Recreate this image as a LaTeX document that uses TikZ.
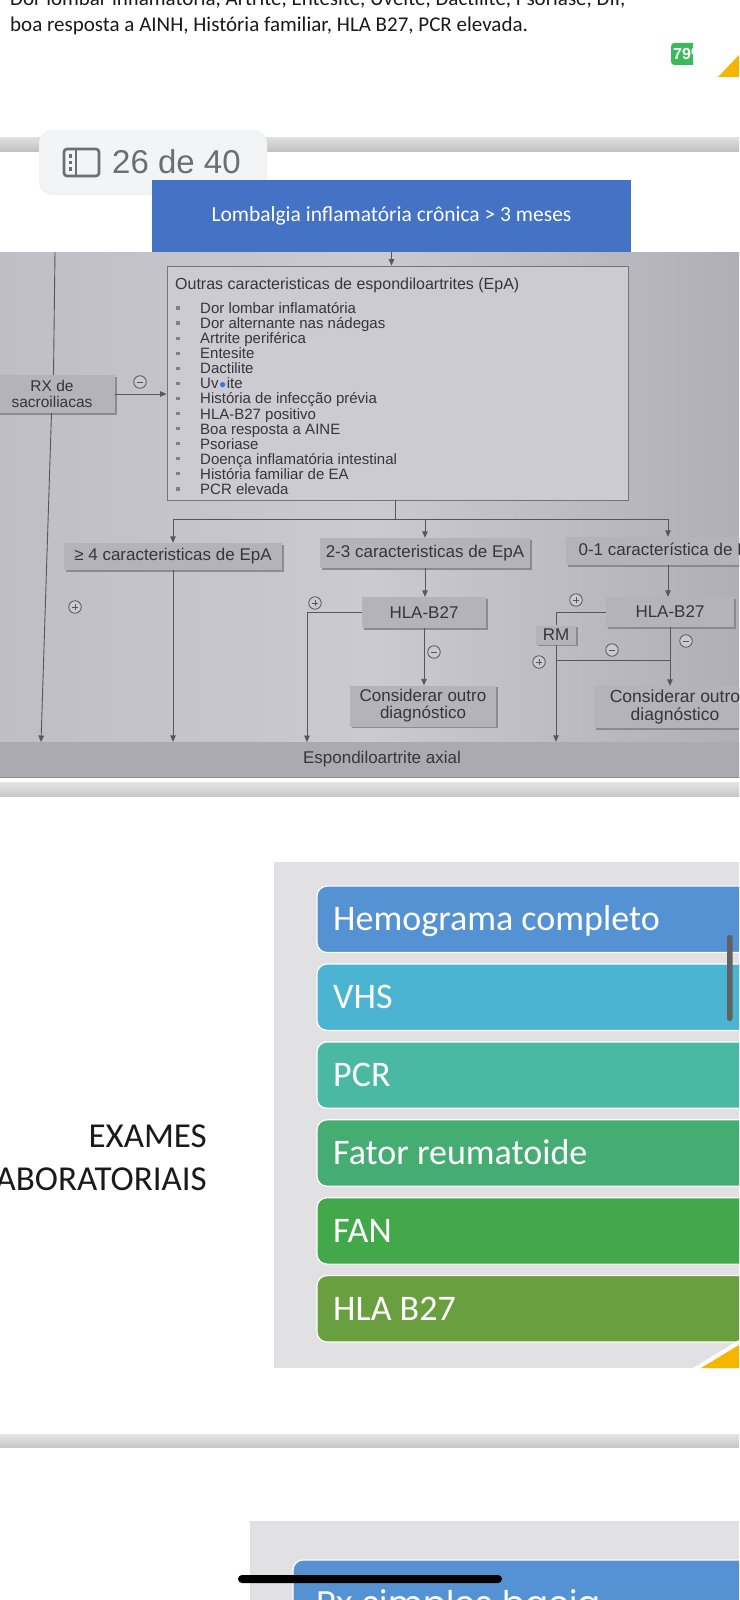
\documentclass[tikz,border=0pt]{standalone}
\usepackage{fontspec}
\setmainfont{Liberation Sans}
\newfontfamily\carlito{Carlito}
\newfontfamily\arialf{Liberation Sans}
\newfontfamily\popf{Poppins}
\usetikzlibrary{arrows.meta,shadows}
\definecolor{ink}{HTML}{1A1A1A}
\definecolor{badgegreen}{HTML}{3CB95A}
\definecolor{yel}{HTML}{F7B500}
\definecolor{badgebg}{HTML}{F3F4F6}
\definecolor{icongray}{HTML}{6E6E70}
\definecolor{hdrblue}{HTML}{4472C4}
\definecolor{pbgL}{HTML}{BFBDC5}
\definecolor{pbgM}{HTML}{CBC9D1}
\definecolor{pbgR}{HTML}{B0AEB6}
\definecolor{listfill}{HTML}{CCCAD2}
\definecolor{listdraw}{HTML}{75737B}
\definecolor{boxfill}{HTML}{B4B2BA}
\definecolor{shad}{HTML}{86848C}
\definecolor{linecol}{HTML}{57555D}
\definecolor{txt}{HTML}{37353C}
\definecolor{bulletc}{HTML}{807E86}
\definecolor{barfill}{HTML}{ABA9B2}
\definecolor{dotblue}{HTML}{3A78D8}
\definecolor{panelgray}{HTML}{E1E1E4}
\definecolor{ca}{HTML}{5592D3}
\definecolor{cb}{HTML}{4BB4D3}
\definecolor{cc}{HTML}{4AB9A4}
\definecolor{cd}{HTML}{45AD72}
\definecolor{ce}{HTML}{42A84A}
\definecolor{cf}{HTML}{6A9F40}
\newcommand\uvdot{\makebox[0.556em]{\textcolor{dotblue}{\scalebox{0.8}{●}}}}
\tikzset{
  flowbox/.style={fill=boxfill, text=txt, align=center, inner sep=0pt,
    font=\arialf\fontsize{17}{19}\selectfont,
    drop shadow={shadow xshift=1.5pt, shadow yshift=-1.5pt, fill=shad, opacity=0.9}},
  ln/.style={draw=linecol, line width=0.9pt},
  arr/.style={ln, -{Triangle[length=6.5pt,width=5.5pt]}},
  sgn/.style={circle, draw=linecol, line width=0.8pt, minimum size=12.5pt, inner sep=0pt, fill=pbgM},
  minus/.style={sgn, path picture={\draw[linecol, line width=0.8pt] ([xshift=-3.3pt]path picture bounding box.center) -- ([xshift=3.3pt]path picture bounding box.center);}},
  plus/.style={sgn, path picture={\draw[linecol, line width=0.8pt] ([xshift=-3.3pt]path picture bounding box.center) -- ([xshift=3.3pt]path picture bounding box.center);
     \draw[linecol, line width=0.8pt] ([yshift=-3.3pt]path picture bounding box.center) -- ([yshift=3.3pt]path picture bounding box.center);}},
  item/.style={anchor=west, inner sep=0pt, text=txt, font=\arialf\fontsize{15}{16}\selectfont,
    text height=11pt, text depth=0pt},
  labtext/.style={anchor=west, inner sep=0pt, text=white, font=\carlito\fontsize{36}{40}\selectfont,
    text height=23pt, text depth=0pt}
}
\begin{document}
\begin{tikzpicture}[x=1pt,y=-1pt]
\useasboundingbox (0,0) rectangle (739,1600);
\clip (0,0) rectangle (739,1600);
\fill[white] (0,0) rectangle (739,1600);

% ---------- header text ----------
\node[anchor=base west, inner sep=0pt, text=ink, font=\carlito\fontsize{21}{25}\selectfont] (h1) at (10,6)
  {Dor lombar inflamatória, Artrite, Entesite, Uveíte, Dactilite, Psoríase, DII,};
\node[anchor=base west, inner sep=0pt, text=ink, font=\carlito\fontsize{21}{25}\selectfont] (h2) at (10,32)
  {boa resposta a AINH, História familiar, HLA B27, PCR elevada.};

\begin{scope}
\clip (671,42) rectangle (693,66);
\node[fill=badgegreen, rounded corners=3pt, text=white, anchor=west, inner xsep=2pt, minimum height=22pt,
  font=\arialf\bfseries\fontsize{16}{18}\selectfont] (pct) at (671,54) {79\%};
\end{scope}
\fill[yel] (718,77) -- (739,55) -- (739,77) -- cycle;

% ---------- separator + page badge ----------
\shade[top color=black!13, bottom color=black!24] (0,138) rectangle (739,151);
\fill[black!5, rounded corners=13pt] (39,130) rectangle (267,195);
\fill[badgebg, rounded corners=12pt] (41,131) rectangle (265,192);
\draw[icongray, line width=2.6pt, rounded corners=3pt] (64,149) rectangle (99,176);
\draw[icongray, line width=2.3pt] (76,149) -- (76,176);
\fill[icongray] (68.5,154) rectangle (72,157.5);
\fill[icongray] (68.5,160.5) rectangle (72,164);
\fill[icongray] (68.5,167) rectangle (72,170.5);
\node[anchor=west, inner sep=0pt, text=icongray, font=\arialf\fontsize{33}{36}\selectfont] (pg) at (112,162) {26 de 40};

% ---------- flowchart photo ----------
\shade[left color=pbgL, right color=pbgR, middle color=pbgM] (0,252) rectangle (739,777);
\shade[top color=black!10, bottom color=black!22] (0,782) rectangle (739,796);

\node[fill=hdrblue, minimum width=479pt, minimum height=72pt, inner sep=0pt, text=white,
  font=\carlito\fontsize{21.5}{24}\selectfont] (blue) at (391.5,216) {Lombalgia inflamatória crônica > 3 meses};

\node[draw=listdraw, line width=0.9pt, fill=listfill, minimum width=461pt, minimum height=234pt, inner sep=0pt] (list) at (397.5,383) {};
\node[anchor=west, inner sep=0pt, text=txt, font=\arialf\fontsize{16}{18}\selectfont] (lh) at (175,285)
  {Outras caracteristicas de espondiloartrites (EpA)};
\foreach \t [count=\i] in {Dor lombar inflamatória, Dor alternante nas nádegas, Artrite periférica, Entesite,
   Dactilite, {Uv\uvdot ite}, História de infecção prévia, HLA-B27 positivo, Boa resposta a AINE, Psoriase,
   Doença inflamatória intestinal, História familiar de EA, PCR elevada} {
  \pgfmathsetmacro\yy{308+15.08*(\i-1)}
  \node[item] (it\i) at (200,\yy) {\t};
  \fill[bulletc] (175.5,\yy-1.6) rectangle (179.5,\yy+1.6);
}

\node[flowbox, minimum width=126pt, minimum height=38pt, font=\arialf\fontsize{15.5}{15.5}\selectfont] (rx) at (52,394) {RX de\\sacroiliacas};

\node[flowbox, minimum width=218pt, minimum height=27pt] (ge4) at (173,556.5) {≥ 4 caracteristicas de EpA};
\node[flowbox, minimum width=210pt, minimum height=30pt] (b23) at (425,553) {2-3 caracteristicas de EpA};
\node[flowbox, minimum width=216pt, minimum height=28pt] (b01) at (674,551) {0-1 característica de EpA};
\node[flowbox, minimum width=124pt, minimum height=31pt] (hla1) at (424,612.5) {HLA-B27};
\node[flowbox, minimum width=128pt, minimum height=30pt] (hla2) at (670,612) {HLA-B27};
\node[flowbox, minimum width=40pt, minimum height=19pt] (rm) at (556,635) {RM};
\node[flowbox, minimum width=146pt, minimum height=41pt, font=\arialf\fontsize{17}{17}\selectfont] (cons1) at (423,706) {Considerar outro\\diagnóstico};
\node[flowbox, minimum width=162pt, minimum height=42pt, font=\arialf\fontsize{17.5}{17.5}\selectfont] (cons2) at (675,707) {Considerar outro\\diagnóstico};
\node[fill=barfill, minimum width=804pt, minimum height=35pt, inner sep=0pt, text=txt,
  font=\arialf\fontsize{17}{19}\selectfont] (bar) at (382,759.5) {Espondiloartrite axial};
\draw[black!45, line width=1pt] (bar.south west) -- (bar.south east);

% connectors
\coordinate (ltop) at (55,252);
\coordinate (lrxt) at (53.5,375);
\coordinate (lrxb) at (51.5,413);
\coordinate (lbot) at (41,742);
\coordinate (b01in) at (668,551);
\draw[ln] (ltop) -- (lrxt);
\draw[arr] (lrxb) -- (lbot);
\draw[arr] (rx.east) -- (rx.east -| list.west);
\draw[arr] (blue.south) -- (blue.south |- list.north);
\coordinate (jc) at (395,519);
\draw[ln] (list.south -| jc) -- (jc);
\draw[arr] (jc) -| (ge4.north);
\draw[arr] (jc) -| (b23.north);
\draw[arr] (jc) -| (b01in |- b01.north);
\draw[arr] (ge4.south) -- (ge4.south |- bar.north);
\draw[arr] (b23.south) -- (b23.south |- hla1.north);
\coordinate (mbot) at (307,742);
\draw[arr] (hla1.west) -| (mbot);
\draw[arr] (hla1.south) -- (hla1.south |- cons1.north);
\draw[arr] (b01in |- b01.south) -- (b01in |- hla2.north);
\draw[ln] (hla2.west) -| (rm.north);
\draw[arr] (rm.south) -- (rm.south |- bar.north);
\coordinate (hj) at (670,660);
\draw[ln] (hj -| rm.south) -- (hj);
\draw[arr] (hla2.south) -- (hla2.south |- cons2.north);

% signs
\node[minus] (s1) at (140,382) {};
\node[plus]  (s2) at (75,607) {};
\node[plus]  (s3) at (315,603) {};
\node[minus] (s4) at (434,652) {};
\node[plus]  (s5) at (576,600) {};
\node[minus] (s6) at (612,650) {};
\node[minus] (s7) at (686,641) {};
\node[plus]  (s8) at (539,662) {};

% ---------- exames laboratoriais ----------
\fill[panelgray] (274,862) rectangle (739,1368);
\foreach \t/\c [count=\i] in {Hemograma completo/ca, VHS/cb, PCR/cc, Fator reumatoide/cd, FAN/ce, HLA B27/cf} {
  \pgfmathsetmacro\yy{919.3+77.9*(\i-1)}
  \draw[white, line width=1.2pt, fill=\c, rounded corners=10pt] (317,\yy-33.2) rectangle (780,\yy+33.2);
  \node[labtext] (lab\i) at (333,\yy) {\t};
}
\fill[black!62, rounded corners=2.5pt] (727,935) rectangle (732.5,1021);
\fill[white] (693,1368) -- (739,1340) -- (739,1368) -- cycle;
\fill[yel] (701,1368) -- (739,1345) -- (739,1368) -- cycle;
\node[anchor=east, inner sep=0pt, align=right, text=ink, font=\carlito\fontsize{35}{43}\selectfont] (ex) at (207,1157.5)
  {EXAMES\\LABORATORIAIS};

% ---------- bottom ----------
\shade[top color=black!10, bottom color=black!22] (0,1434) rectangle (739,1447);
\fill[panelgray] (250,1521) rectangle (739,1600);
\draw[white, line width=1.2pt, fill=ca, rounded corners=10pt] (293,1560) rectangle (790,1660);
\node[anchor=base west, inner sep=0pt, text=white, font=\popf\fontsize{34}{38}\selectfont] (rx2) at (316,1615) {Rx simples bacia};
\fill[black, rounded corners=4pt] (238,1575) rectangle (502,1583);
\end{tikzpicture}
\end{document}
